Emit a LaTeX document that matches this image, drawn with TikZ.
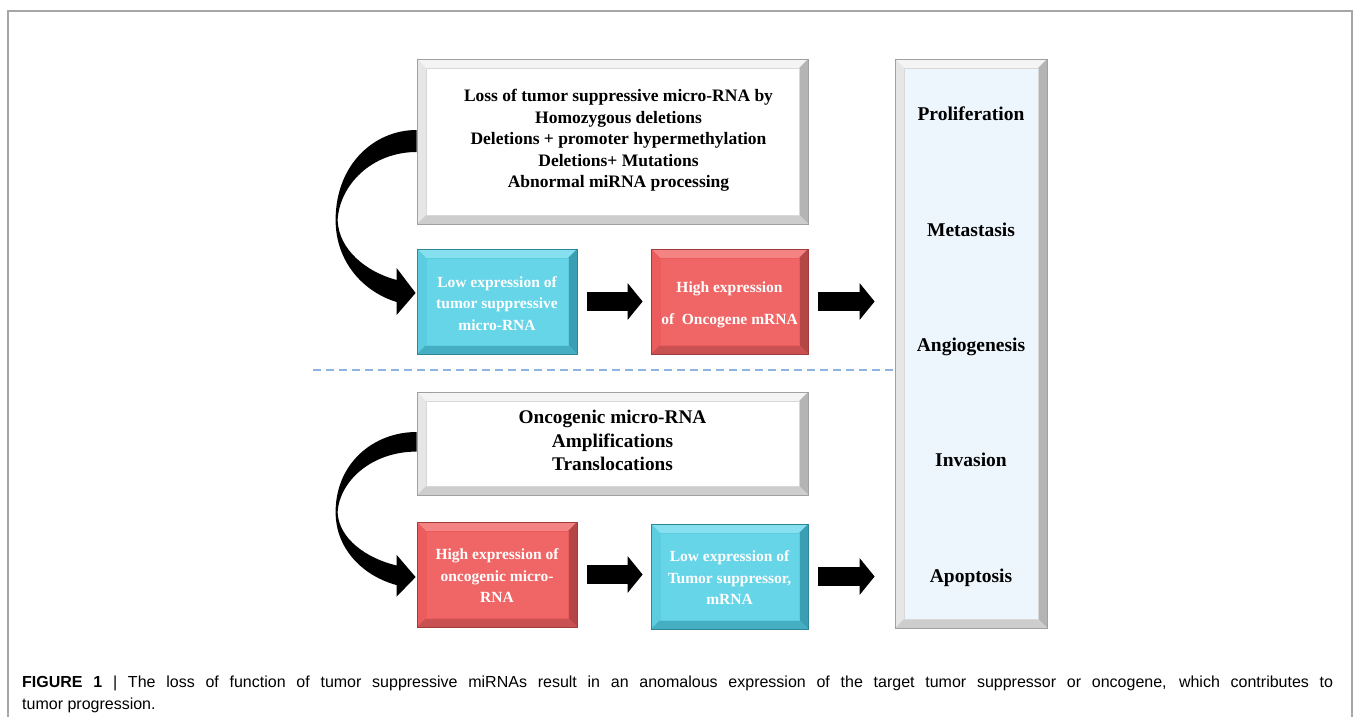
\documentclass[tikz,border=0pt]{standalone}
\usepackage{fontspec}
\setmainfont{Liberation Serif}
\newfontfamily\capfont{Liberation Sans}
\usetikzlibrary{arrows.meta}
\definecolor{framecol}{HTML}{A6A6A6}
\definecolor{dashcol}{HTML}{8EB4E3}
\definecolor{cyanface}{HTML}{66D5E8}
\definecolor{cyantop}{HTML}{86E0EF}
\definecolor{cyanleft}{HTML}{5CCCE0}
\definecolor{cyanright}{HTML}{3A9FB2}
\definecolor{cyanbot}{HTML}{45AEC2}
\definecolor{cyanborder}{HTML}{2E8798}
\definecolor{redface}{HTML}{F06565}
\definecolor{redtop}{HTML}{F48484}
\definecolor{redleft}{HTML}{EC5C5C}
\definecolor{redright}{HTML}{B54646}
\definecolor{redbot}{HTML}{C95151}
\definecolor{redborder}{HTML}{A03C3C}
\definecolor{blueface}{HTML}{EEF6FD}
\definecolor{greytop}{HTML}{F4F4F4}
\definecolor{greyleft}{HTML}{E6E6E6}
\definecolor{greyright}{HTML}{B4B4B4}
\definecolor{greybot}{HTML}{CDCDCD}
\definecolor{greyborder}{HTML}{A0A0A0}
\definecolor{greyline}{HTML}{D8D8D8}
\tikzset{
  bevelbox/.style n args={7}{% face, top, left, right, bottom, border, inner line
    draw=#6, line width=0.8pt, fill=#1, inner sep=0pt,
    path picture={
      \fill[#2] (path picture bounding box.north west) -- (path picture bounding box.north east)
        -- ([shift={(-9pt,-9pt)}]path picture bounding box.north east)
        -- ([shift={(9pt,-9pt)}]path picture bounding box.north west) -- cycle;
      \fill[#3] (path picture bounding box.north west) -- (path picture bounding box.south west)
        -- ([shift={(9pt,9pt)}]path picture bounding box.south west)
        -- ([shift={(9pt,-9pt)}]path picture bounding box.north west) -- cycle;
      \fill[#4] (path picture bounding box.north east) -- (path picture bounding box.south east)
        -- ([shift={(-9pt,9pt)}]path picture bounding box.south east)
        -- ([shift={(-9pt,-9pt)}]path picture bounding box.north east) -- cycle;
      \fill[#5] (path picture bounding box.south west) -- (path picture bounding box.south east)
        -- ([shift={(-9pt,9pt)}]path picture bounding box.south east)
        -- ([shift={(9pt,9pt)}]path picture bounding box.south west) -- cycle;
      \draw[#7, line width=0.7pt] ([shift={(9pt,-9pt)}]path picture bounding box.north west)
        rectangle ([shift={(-9pt,9pt)}]path picture bounding box.south east);
    }},
  whitebox/.style={bevelbox={white}{greytop}{greyleft}{greyright}{greybot}{greyborder}{greyline}},
  cyanbox/.style={bevelbox={cyanface}{cyantop}{cyanleft}{cyanright}{cyanbot}{cyanborder}{cyanleft}},
  redbox/.style={bevelbox={redface}{redtop}{redleft}{redright}{redbot}{redborder}{redleft}},
  bluebox/.style={bevelbox={blueface}{greytop}{greyleft}{greyright}{greybot}{greyborder}{greyline}},
  colortext/.style={text=white, align=center, inner sep=0pt, font=\fontsize{15.5}{21.5}\selectfont\bfseries},
  blacktext/.style={align=center, inner sep=0pt},
  effect/.style={anchor=mid, font=\fontsize{19.5}{23}\selectfont\bfseries, inner sep=0pt},
  blockarr/.style={line width=19pt, -{Triangle[length=15pt,width=36pt]}, black},
}
\begin{document}
\begin{tikzpicture}[x=1pt,y=-1pt]
\useasboundingbox (0,0) rectangle (1354,717);
\draw[framecol, line width=1.3pt] (8,717) -- (8,11) -- (1352,11) -- (1352,717);

% upper half
\node[whitebox, minimum width=391pt, minimum height=165pt] (loss) at (612.5,141.5) {};
\node[blacktext, font=\fontsize{17.5}{21.5}\selectfont\bfseries] (lossT) at ([xshift=6pt,yshift=1pt]loss.center)
  {Loss of tumor suppressive micro-RNA by\\Homozygous deletions\\Deletions + promoter hypermethylation\\Deletions+ Mutations\\Abnormal miRNA processing};
\node[cyanbox, minimum width=160pt, minimum height=105pt] (lowts) at (497,301.5) {};
\node[colortext] (lowtsT) at ([yshift=-2pt]lowts.center)
  {Low expression of\\tumor suppressive\\micro-RNA};
\node[redbox, minimum width=157pt, minimum height=105pt] (highonc) at (729.5,301.5) {};
\node[colortext] (highoncT) at ([yshift=-3.5pt]highonc.center)
  {High expression\\[10pt]of\ \ Oncogene mRNA};

% right column
\node[bluebox, minimum width=152pt, minimum height=569pt] (effects) at (971,343.5) {};
\node[effect] (prolif) at (971,118.5) {Proliferation};
\node[effect] (metas) at (971,234.5) {Metastasis};
\node[effect] (angio) at (971,349.5) {Angiogenesis};
\node[effect] (invas) at (971,464.5) {Invasion};
\node[effect] (apop) at (971,580.5) {Apoptosis};

% lower half
\node[whitebox, minimum width=391pt, minimum height=103pt] (onco) at (612.5,443.5) {};
\node[blacktext, font=\fontsize{19.3}{23.5}\selectfont\bfseries] (oncoT) at ([yshift=3pt]onco.center)
  {Oncogenic micro-RNA\\Amplifications\\Translocations};
\node[redbox, minimum width=160pt, minimum height=105pt] (highomir) at (497,574.5) {};
\node[colortext] (highomirT) at ([yshift=-1.5pt]highomir.center)
  {High expression of\\oncogenic micro-\\RNA};
\node[cyanbox, minimum width=157pt, minimum height=105pt] (lowtsm) at (729.5,576.5) {};
\node[colortext] (lowtsmT) at ([yshift=-1.5pt]lowtsm.center)
  {Low expression of\\Tumor suppressor,\\mRNA};

% separator
\coordinate (sepL) at (313,370);
\coordinate (sepR) at (893,370);
\draw[dashcol, line width=1.2pt, dash pattern=on 8pt off 5pt] (sepL) -- (sepR);

% straight block arrows
\draw[blockarr] ([xshift=10pt]lowts.east) -- ([xshift=-8pt]highonc.west);
\draw[blockarr] ([xshift=10pt]highonc.east) -- ([xshift=-20pt]highonc.east -| effects.west);
\draw[blockarr] ([xshift=10pt]highomir.east) -- ([xshift=-8pt]highomir.east -| lowtsm.west);
\draw[blockarr] ([xshift=10pt]lowtsm.east) -- ([xshift=-20pt]lowtsm.east -| effects.west);

% curved arrows
\begin{scope}[shift={([yshift=11.5pt]loss.west)}]
  \fill[black] (0,0) .. controls (-43,0) and (-81,35) .. (-81,90)
    .. controls (-81,132) and (-53,162) .. (-20,172) -- (-20,185) -- (-1,163) -- (-20,138) -- (-20,150)
    .. controls (-50,142) and (-78,120) .. (-79,90)
    .. controls (-77,55) and (-45,22) .. (0,22) -- cycle;
\end{scope}
\begin{scope}[shift={([yshift=11.5pt]onco.west)}, yscale=0.89]
  \fill[black] (0,0) .. controls (-43,0) and (-81,35) .. (-81,90)
    .. controls (-81,132) and (-53,162) .. (-20,172) -- (-20,185) -- (-1,163) -- (-20,138) -- (-20,150)
    .. controls (-50,142) and (-78,120) .. (-79,90)
    .. controls (-77,55) and (-45,22) .. (0,22) -- cycle;
\end{scope}

% caption
\node[anchor=base west, inner sep=0pt, align=left, font=\capfont\fontsize{16}{22.5}\selectfont] (cap) at (22,709.5)
  {\makebox[1311pt][s]{\textbf{FIGURE 1} | The loss of function of tumor suppressive miRNAs result in an anomalous expression of the target tumor suppressor or oncogene, which contributes to}\\tumor progression.};
\end{tikzpicture}
\end{document}
